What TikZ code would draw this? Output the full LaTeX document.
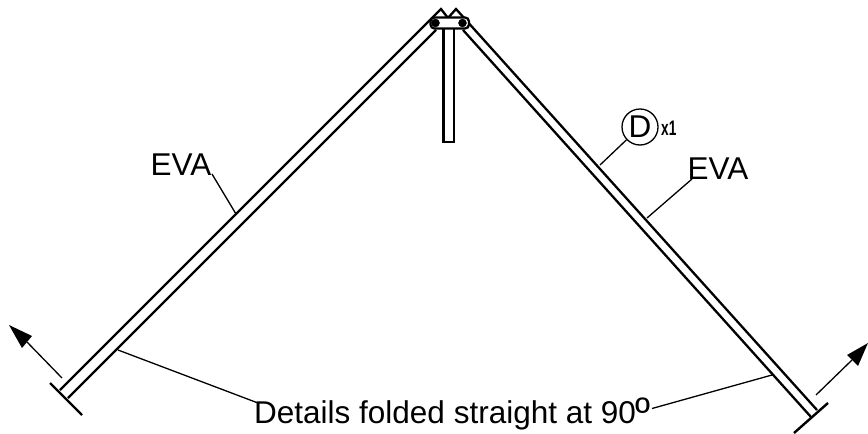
\documentclass[tikz,border=0pt]{standalone}
\usepackage{fontspec}
\usepackage{graphicx}
\setmainfont{Liberation Sans}
\tikzset{
 px/.style={x=1pt,y=-1pt},
 beam/.style={line width=2.3pt,line cap=butt},
 leader/.style={line width=1.3pt},
 lbl/.style={inner sep=0pt,font=\fontsize{31.5}{36}\selectfont},
 head/.style={fill=black,draw=none},
 pin/.style={circle,fill=black,draw=black,inner sep=0pt,minimum size=8pt}
}
\begin{document}
\begin{tikzpicture}[px]
\useasboundingbox (0,0) rectangle (868,434);
\coordinate (LT) at (441,9);
\coordinate (LO) at (60,390);
\coordinate (LI) at (68,398);
\coordinate (LIT) at (436,30);
\coordinate (RT) at (456,9);
\coordinate (RO) at (817,410);
\coordinate (RI) at (811,417);
\coordinate (RIT) at (463,30);
\draw[beam] (LO) -- (LT) -- (448,18);
\draw[beam] (LI) -- (LIT);
\draw[beam] (RO) -- (RT) -- (448,18);
\draw[beam] (RI) -- (RIT);
\draw[beam,rounded corners=4pt,fill=white] (430.5,17.5) rectangle (469,28.5);
\node[pin] (p1) at (435.5,23) {};
\node[pin] (p2) at (462.5,23) {};
\draw[beam] (443.5,29) -- (443.5,142) -- (454,142) -- (454,29);
\draw[line width=2.4pt] (50,383) -- (82,415);
\draw[line width=2.4pt] (828,403) -- (794,433);
\coordinate (a1) at (62,378);
\coordinate (a1t) at (9,325);
\draw[leader] (a1) -- (27,342);
\fill[head] (a1t) -- (32,336) -- (22,348) -- cycle;
\coordinate (a2) at (816,395);
\coordinate (a2t) at (868,343);
\draw[leader] (a2) -- (852,360);
\fill[head] (a2t) -- (847,355) -- (858,366) -- cycle;
\node[lbl,anchor=base west] (e1) at (150.5,175) {EVA};
\node[lbl,anchor=base west] (e2) at (687.5,179) {EVA};
\draw[leader] (212,174) -- (236,214);
\draw[leader] (692,179) -- (647,218);
\node[circle,draw,line width=1.3pt,minimum size=36pt,inner sep=0pt,lbl] (d) at (640,127) {D};
\node[inner sep=0pt,anchor=base west,font=\fontsize{21}{24}\bfseries\selectfont] (x1) at (661,135) {\scalebox{0.65}[1]{x1}};
\draw[leader] (d) -- (600,165);
\node[lbl,anchor=base west] (t) at (254,423) {Details folded straight at 90\raisebox{-3pt}{\scalebox{1.3}{º}}};
\draw[leader] (118,350) -- (258,403);
\draw[leader] (652,408.5) -- (772,375);
\end{tikzpicture}
\end{document}
